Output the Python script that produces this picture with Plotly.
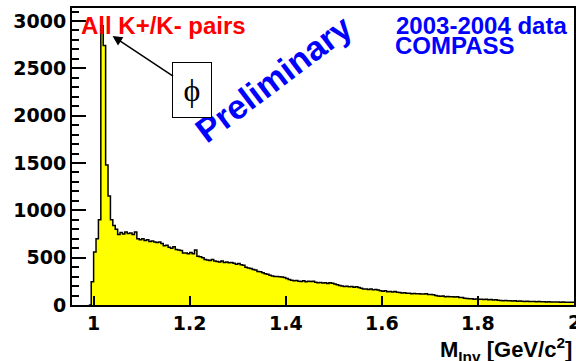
import numpy as np
import plotly.graph_objects as go

# Histogram: K+K- invariant mass, bins of 0.005 GeV starting at 0.990 GeV
bin_low = 0.990
bin_width = 0.005
counts = [
    0, 246, 560, 700, 900, 2950, 2740, 1480, 1150, 900,
    840, 800, 745, 765, 750, 770, 755, 760, 745, 770,
    700, 690, 700, 680, 690, 670, 675, 665, 660, 665,
    650, 625, 630, 610, 600, 615, 585, 580, 575, 550,
    548, 540, 555, 540, 580, 515, 510, 500, 480, 475,
    470, 480, 465, 460, 455, 465, 450, 455, 445, 450,
    440, 430, 438, 425, 420, 400, 390, 385, 375, 370,
    355, 350, 340, 330, 325, 315, 305, 300, 302, 298,
    295, 290, 280, 270, 262, 255, 260, 250, 248, 255,
    245, 250, 247, 252, 240, 235, 238, 232, 235, 228,
    236, 230, 222, 215, 205, 200, 195, 198, 192, 195,
    188, 192, 185, 178, 170, 168, 165, 170, 162, 165,
    158, 150, 145, 150, 140, 143, 138, 142, 135, 132,
    128, 130, 123, 125, 120, 122, 118, 120, 117, 115,
    118, 112, 110, 108, 100, 95, 92, 95, 88, 90,
    86, 88, 84, 86, 80, 78, 72, 68, 65, 66,
    62, 64, 60, 62, 58, 60, 55, 58, 52, 55,
    50, 48, 46, 48, 44, 46, 42, 44, 40, 42,
    40, 38, 40, 37, 36, 38, 35, 36, 34, 35,
    33, 34, 32, 33, 31, 32, 30, 31, 29, 30,
    28, 29,
]

x_ticks = [1.0, 1.2, 1.4, 1.6, 1.8, 2.0]
x_tick_labels = ["1", "1.2", "1.4", "1.6", "1.8", "2"]
y_ticks = [0, 500, 1000, 1500, 2000, 2500, 3000]
y_tick_labels = ["0", "500", "1000", "1500", "2000", "2500", "3000"]

label_all = "All K+/K- pairs"
label_data = "2003-2004 data"
label_exp = "COMPASS"
label_prelim = "Preliminary"
label_phi = "\u03d5"
x_title = "M<sub>Inv</sub> [GeV/c<sup>2</sup>]"

edges = bin_low + bin_width * np.arange(len(counts) + 1)
yvals = list(counts) + [counts[-1]]

fig = go.Figure()
fig.add_trace(go.Scatter(
    x=edges, y=yvals, mode="lines", line=dict(shape="hv", color="black", width=1.5),
    fill="tozeroy", fillcolor="#ffff00", hoverinfo="skip", showlegend=False,
))

W, H = 576, 361
L, R, T, B = 72, 0, 8, 56
pw, ph = W - L - R, H - T - B

def px(xp):
    return (xp - L) / pw

def py(yp):
    return (H - B - yp) / ph

bold = dict(family="Liberation Sans", weight="bold")
tickfont = dict(family="DejaVu Sans", size=19, color="black", weight="bold")

fig.update_layout(
    width=W, height=H,
    margin=dict(l=L, r=R, t=T, b=B),
    paper_bgcolor="white", plot_bgcolor="white",
    showlegend=False,
    xaxis=dict(
        range=[0.955, 2.0], tickmode="array", tickvals=x_ticks[:-1], ticktext=x_tick_labels[:-1],
        ticks="inside", ticklen=9, tickwidth=2, tickcolor="black",
        showline=True, linecolor="black", linewidth=2, mirror=True,
        showgrid=False, zeroline=False, tickfont=tickfont,
    ),
    yaxis=dict(
        range=[0, 3137], tickmode="array", tickvals=y_ticks, ticktext=y_tick_labels,
        ticks="inside", ticklen=14, tickwidth=2, tickcolor="black",
        minor=dict(ticks="inside", ticklen=7, tickwidth=1.5, tickcolor="black", dtick=100, tick0=0),
        showline=True, linecolor="black", linewidth=2, mirror=True,
        showgrid=False, zeroline=False, tickfont=tickfont,
    ),
)

annotations = [
    dict(text=label_all, x=px(79), y=py(26), xanchor="left", yanchor="middle",
         font=dict(size=24, color="#ff0000", **bold)),
    dict(text=label_data, x=px(395), y=py(25.5), xanchor="left", yanchor="middle",
         font=dict(size=24, color="#0000ff", **bold)),
    dict(text=label_exp, x=px(394), y=py(45), xanchor="left", yanchor="middle",
         font=dict(size=24, color="#0000ff", **bold)),
    dict(text=label_prelim, x=px(274), y=py(79), xanchor="center", yanchor="middle",
         textangle=-37, font=dict(size=34, color="#0000ff", **bold)),
    dict(text=label_phi, x=px(192.5), y=py(89.5), xanchor="center", yanchor="middle",
         width=38, height=54, bordercolor="black", borderwidth=1, borderpad=0,
         bgcolor="white", font=dict(family="Liberation Serif", size=32, color="black")),
    dict(text="", x=px(112.7), y=py(36), ax=62, ay=41, showarrow=True,
         arrowhead=2, arrowsize=1.3, arrowwidth=1.5, arrowcolor="black"),
    dict(text=x_tick_labels[-1], x=px(576), y=py(322), xanchor="center", yanchor="middle",
         font=tickfont),
    dict(text=x_title, x=1.0, y=py(349), xanchor="right", yanchor="middle",
         font=dict(size=22, color="black", **bold)),
]
for a in annotations:
    a.setdefault("showarrow", False)
    a["xref"] = "paper"
    a["yref"] = "paper"
    fig.add_annotation(**a)

fig.write_html("out.html")
